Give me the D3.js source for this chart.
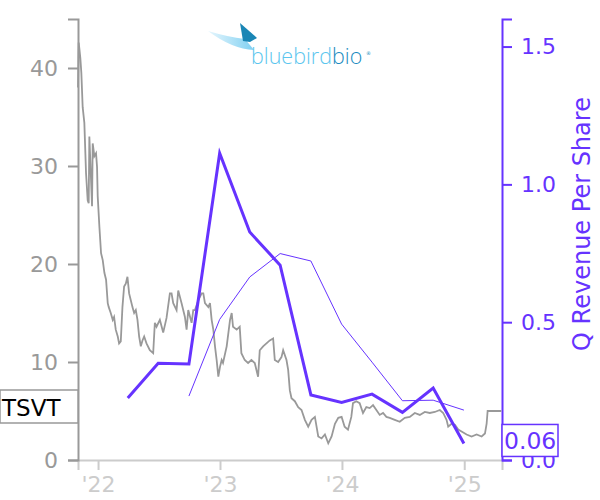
<!DOCTYPE html>
<html><head><meta charset="utf-8">
<script src="https://cdn.jsdelivr.net/npm/d3@7"></script>
<style>body{margin:0;background:#fff}svg{display:block}text{font-family:"DejaVu Sans",sans-serif}</style>
</head><body><svg id="c" width="600" height="500"></svg>
<script>
// ---- data ----
const priceDates = ["2021-11-02","2021-11-04","2021-11-06","2021-11-09","2021-11-12","2021-11-16","2021-11-21","2021-11-26","2021-12-01","2021-12-04","2021-12-06","2021-12-11","2021-12-14","2021-12-16","2021-12-21","2021-12-26","2021-12-29","2021-12-31",
"2022-01-05","2022-01-10","2022-01-15","2022-01-20","2022-01-25","2022-01-30","2022-02-02","2022-02-08","2022-02-14","2022-02-18","2022-02-23","2022-03-01","2022-03-05","2022-03-10","2022-03-15","2022-03-20","2022-03-25","2022-03-30","2022-04-04","2022-04-09","2022-04-14","2022-04-19","2022-04-24","2022-04-29","2022-05-04","2022-05-09","2022-05-14","2022-05-19","2022-05-26","2022-06-05","2022-06-15","2022-06-20","2022-06-25","2022-07-05","2022-07-15","2022-07-25","2022-08-04","2022-08-09","2022-08-14","2022-08-24","2022-08-29","2022-09-08","2022-09-18","2022-09-23","2022-09-28","2022-10-08","2022-10-13","2022-10-18","2022-10-28","2022-11-07","2022-11-12","2022-11-17","2022-11-27","2022-12-02","2022-12-07","2022-12-12","2022-12-17","2022-12-22","2022-12-27",
"2023-01-01","2023-01-06","2023-01-10","2023-01-21","2023-01-31","2023-02-05","2023-02-09","2023-02-20","2023-03-01","2023-03-06","2023-03-16","2023-03-26","2023-04-05","2023-04-15","2023-04-25","2023-04-30","2023-05-10","2023-05-20","2023-05-30","2023-06-09","2023-06-14","2023-06-24","2023-07-04","2023-07-09","2023-07-19","2023-07-24","2023-07-29","2023-08-03","2023-08-13","2023-08-23","2023-09-02","2023-09-12","2023-09-22","2023-10-02","2023-10-12","2023-10-22","2023-11-01","2023-11-11","2023-11-21","2023-12-01","2023-12-11","2023-12-21","2023-12-31",
"2024-01-09","2024-01-19","2024-01-29","2024-02-03","2024-02-13","2024-02-23","2024-03-04","2024-03-14","2024-03-24","2024-04-03","2024-04-13","2024-04-23","2024-05-03","2024-05-13","2024-05-23","2024-06-07","2024-06-22","2024-07-07","2024-07-22","2024-08-06","2024-08-21","2024-09-05","2024-09-20","2024-10-05","2024-10-20","2024-10-30","2024-11-09","2024-11-14","2024-11-24","2024-12-04","2024-12-14","2024-12-24",
"2025-01-08","2025-01-23","2025-02-07","2025-02-22","2025-03-04","2025-03-09","2025-03-12","2025-03-29","2025-04-22"];
const priceValues = [38.0,42.6,42.0,41.0,39.5,36.0,34.4,29.3,26.5,26.2,33.0,28.6,25.9,32.3,31.0,31.3,29.9,26.9,
23.8,21.1,20.4,19.1,18.4,16.0,15.6,15.0,14.3,14.6,13.3,12.6,11.9,12.1,15.6,17.7,18.0,18.7,17.0,16.3,15.6,15.0,15.3,14.3,12.6,11.6,12.2,12.6,11.9,11.2,10.9,14.0,13.6,14.3,13.0,14.5,17.0,17.0,16.0,15.3,17.3,16.0,14.6,13.3,15.3,14.0,15.3,15.3,16.3,17.0,17.0,16.0,15.6,16.0,14.3,13.3,11.6,10.2,8.5,
9.5,10.2,9.9,11.6,14.3,15.0,13.6,13.3,13.6,10.9,10.2,9.9,10.2,9.9,8.5,11.2,11.6,11.9,12.2,12.4,10.2,10.0,10.5,11.2,10.2,9.2,7.1,6.3,6.0,5.4,5.1,4.1,3.4,4.1,4.4,2.4,2.2,2.6,1.7,2.4,3.7,4.3,4.4,
3.4,3.1,4.4,5.8,6.0,5.8,4.8,5.4,5.3,5.6,5.1,4.6,4.8,4.4,4.3,4.1,3.9,4.3,4.4,4.8,4.6,4.9,4.8,4.9,5.1,4.8,4.1,3.4,3.7,3.6,3.1,2.9,
2.6,2.4,2.6,2.4,2.7,3.7,5.0,5.0,5.0];
const quarterDates = ["2022-03-31","2022-06-30","2022-09-30","2022-12-31","2023-03-31","2023-06-30","2023-09-30","2023-12-31","2024-03-31","2024-06-30","2024-09-30","2024-12-31"];
const revPerShare = [0.225,0.351,0.348,1.113,0.827,0.707,0.236,0.209,0.239,0.173,0.261,0.06];
const avgDates = ["2022-09-30","2022-12-31","2023-03-31","2023-06-30","2023-09-30","2023-12-31","2024-03-31","2024-06-30","2024-09-30","2024-12-31"];
const avgRevPerShare = [0.232,0.510,0.664,0.749,0.722,0.493,0.355,0.215,0.217,0.181];
const leftTicks = [0,10,20,30,40];
const rightTicks = [0,0.5,1.0,1.5];
const xTickDates = ["2022-01-01","2023-01-01","2024-01-01","2025-01-01"];
const ticker = "TSVT";
const lastRevLabel = "0.06";
const rightTitle = "Q Revenue Per Share";

// ---- chart ----
const parse = d3.timeParse("%Y-%m-%d");
const purple = "#6633ff", gray = "#999999";
const svg = d3.select("#c");
const x = d3.scaleTime().domain([parse("2021-11-02"), parse("2025-04-24")]).range([78, 502]);
const yL = d3.scaleLinear().domain([0, 45]).range([460, 19]);
const yR = d3.scaleLinear().domain([0, 1.6]).range([460, 19]);

// axes
const gx = svg.append("g").attr("transform","translate(0,460)")
  .call(d3.axisBottom(x).tickValues(xTickDates.map(parse)).tickFormat(d3.timeFormat("'%y")).tickSize(10).tickPadding(6));
gx.selectAll("path,line").attr("stroke","#cccccc").attr("stroke-width",2);
gx.selectAll("text").attr("fill","#cccccc").style("font-size","22px");

const gl = svg.append("g").attr("transform","translate(78,0)")
  .call(d3.axisLeft(yL).tickValues(leftTicks).tickSize(10).tickPadding(10));
gl.selectAll("path,line").attr("stroke",gray).attr("stroke-width",2);
gl.selectAll("text").attr("fill",gray).style("font-size","22px");

const gr = svg.append("g").attr("transform","translate(502,0)")
  .call(d3.axisRight(yR).tickValues(rightTicks).tickFormat(d3.format(".1f")).tickSize(10).tickPadding(9));
gr.selectAll("path,line").attr("stroke",purple).attr("stroke-width",2);
gr.selectAll("text").attr("fill",purple).style("font-size","22px");

svg.append("text").attr("transform","translate(590,224) rotate(-90)").attr("text-anchor","middle")
  .attr("fill",purple).style("font-size","24px").text(rightTitle);

// price line
const price = priceDates.map((d,i)=>({d:parse(d), v:priceValues[i]}));
svg.append("path").datum(price).attr("fill","none").attr("stroke",gray).attr("stroke-width",1.8)
  .attr("d", d3.line().x(p=>x(p.d)).y(p=>yL(p.v)));

// revenue lines
const avg = avgDates.map((d,i)=>({d:parse(d), v:avgRevPerShare[i]}));
svg.append("path").datum(avg).attr("fill","none").attr("stroke",purple).attr("stroke-width",1)
  .attr("d", d3.line().x(p=>x(p.d)).y(p=>yR(p.v)));
const rev = quarterDates.map((d,i)=>({d:parse(d), v:revPerShare[i]}));
svg.append("path").datum(rev).attr("fill","none").attr("stroke",purple).attr("stroke-width",3)
  .attr("d", d3.line().x(p=>x(p.d)).y(p=>yR(p.v)));

// ticker box
const lastP = yL(priceValues[priceValues.length-1]);
svg.append("rect").attr("x",0).attr("y",lastP-21).attr("width",78).attr("height",33)
  .attr("fill","#fff").attr("stroke",gray).attr("stroke-width",1.5);
svg.append("text").attr("x",2).attr("y",lastP+5).attr("fill","#000").style("font-size","23px").text(ticker);

// last revenue box
const lastR = yR(revPerShare[revPerShare.length-1]);
svg.append("rect").attr("x",502).attr("y",lastR-19).attr("width",56).attr("height",32)
  .attr("fill","#fff").attr("stroke",purple).attr("stroke-width",1.5);
svg.append("text").attr("x",504).attr("y",lastR+6).attr("fill",purple).style("font-size","23.5px").text(lastRevLabel);

// logo
const logo = svg.append("g");
const grad = svg.append("defs").append("linearGradient").attr("id","wing").attr("x1","0").attr("x2","1");
grad.append("stop").attr("offset","0").attr("stop-color","#e6f6fd");
grad.append("stop").attr("offset","1").attr("stop-color","#7fd0f2");
logo.append("path").attr("d","M208,31 Q228,37 245,39 L254,50 Q232,49 208,31 Z").attr("fill","url(#wing)");
logo.append("path").attr("d","M240,23 L257,38 L250,42 L243,41 Z").attr("fill","#1a86b5");
const lt = logo.append("text").attr("x",251).attr("y",64).style("font-family","'Open Sans',sans-serif").style("font-weight","300").style("font-size","21.5px");
lt.append("tspan").attr("fill","#5cc6ee").text("bluebird");
lt.append("tspan").attr("fill","#1a8bc0").text("bio");
logo.append("text").attr("x",366).attr("y",55).attr("fill","#1a8bc0").style("font-size","5px").text("®");
</script></body></html>
